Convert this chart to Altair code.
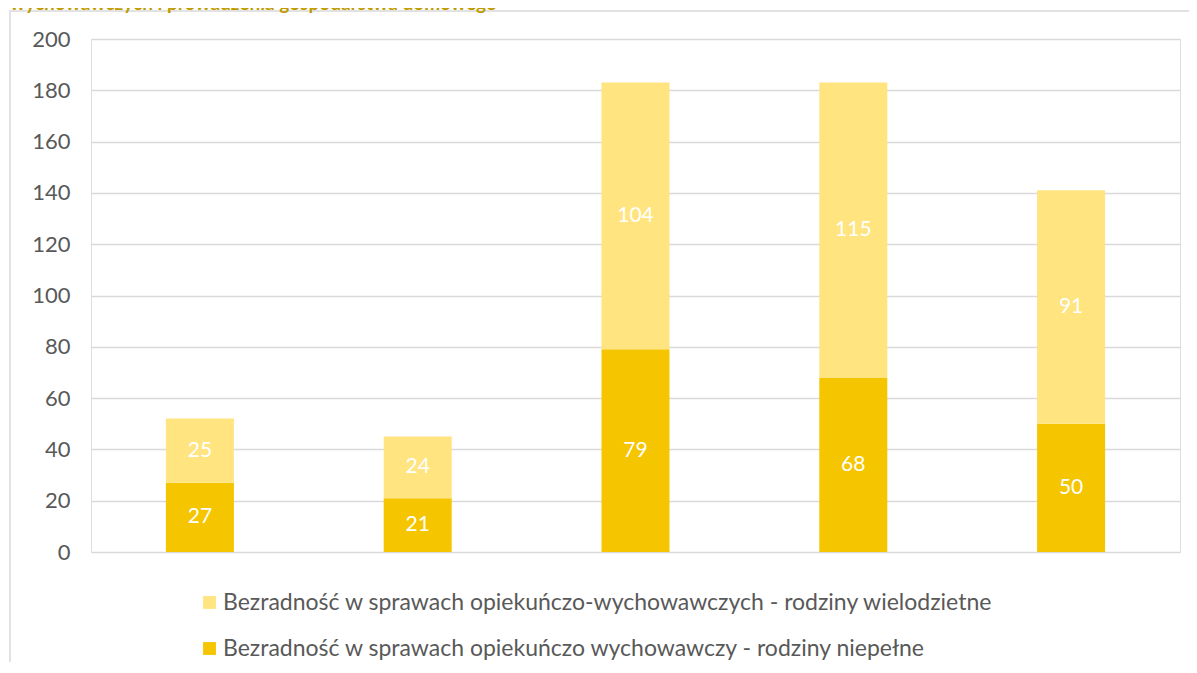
import altair as alt
import pandas as pd

categories = ["1", "2", "3", "4", "5"]
series_names = [
    "Bezradność w sprawach opiekuńczo-wychowawczych - rodziny wielodzietne",
    "Bezradność w sprawach opiekuńczo wychowawczy - rodziny niepełne",
]
wielodzietne = [25, 24, 104, 115, 91]
niepelne = [27, 21, 79, 68, 50]
colors = ["#FFE480", "#F5C500"]
title_text = "wychowawczych i prowadzenia gospodarstwa domowego"

rows = []
for i, c in enumerate(categories):
    rows.append({"cat": c, "series": series_names[1], "value": niepelne[i], "ord": 0})
    rows.append({"cat": c, "series": series_names[0], "value": wielodzietne[i], "ord": 1})
df = pd.DataFrame(rows)

FONT = "Lato"
W, H = 1089, 513

base = alt.Chart(df).transform_stack(
    stack="value", as_=["v0", "v1"], groupby=["cat"], sort=[alt.SortField("ord")]
).transform_calculate(mid="(datum.v0 + datum.v1) / 2")

x_enc = alt.X("cat:N", sort=categories,
              scale=alt.Scale(paddingInner=0, paddingOuter=0),
              axis=alt.Axis(labels=False, ticks=False, domain=False, title=None, grid=False))

bars = base.mark_bar(size=68).encode(
    x=x_enc,
    y=alt.Y("v0:Q", scale=alt.Scale(domain=[0, 200]),
            axis=alt.Axis(values=list(range(0, 201, 20)), title=None, domain=False, ticks=False,
                          labelFontSize=22, labelColor="#595959", labelFont=FONT,
                          labelPadding=21, gridColor="#D9D9D9", gridWidth=1.5)),
    y2="v1:Q",
    color=alt.Color("series:N", scale=alt.Scale(domain=series_names, range=colors),
                    legend=alt.Legend(title=None, orient="none", legendX=107, legendY=552,
                                      direction="vertical", symbolType="square", symbolSize=165,
                                      symbolStrokeWidth=0, labelFontSize=23, labelFont=FONT,
                                      labelColor="#595959", labelOffset=2, rowPadding=22,
                                      labelLimit=1100)),
)

labels = base.mark_text(color="white", fontSize=21, font=FONT, baseline="middle").encode(
    x=alt.X("cat:N", sort=categories),
    y=alt.Y("mid:Q"),
    text=alt.Text("value:Q"),
)

frame_df = pd.DataFrame({"t": [title_text]})
frame = alt.Chart(frame_df).mark_rect(fill=None, stroke="#D9D9D9", strokeWidth=1.5).encode(
    x=alt.value(-81), x2=alt.value(1300), y=alt.value(-28), y2=alt.value(700)
)
title = alt.Chart(frame_df).mark_text(
    align="left", baseline="alphabetic", fontSize=19, fontWeight="bold", font=FONT, color="#BF9B00"
).encode(x=alt.value(-81), y=alt.value(-29), text="t:N")

chart = alt.layer(frame, title, bars, labels).properties(
    width=W, height=H,
    autosize=alt.AutoSizeParams(type="none"),
    padding={"left": 83, "top": 31, "right": 9, "bottom": 110},
).configure_view(stroke=None).configure(font=FONT)

chart.save("out.html", embed_options={"renderer": "svg", "actions": False})
